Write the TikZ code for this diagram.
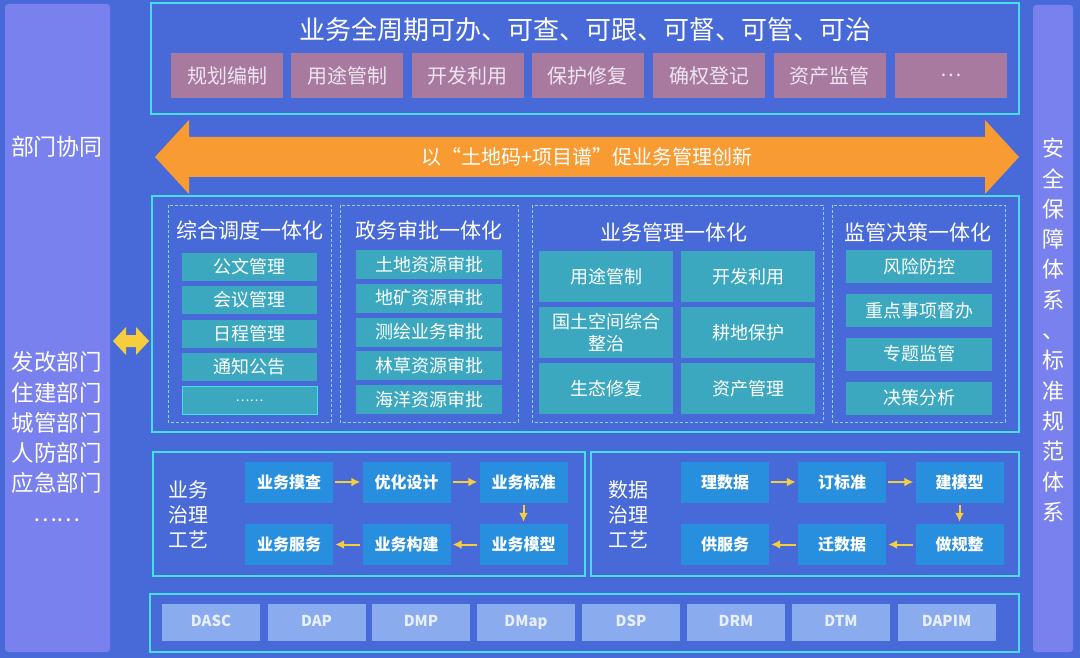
\documentclass[tikz,border=0pt]{standalone}
\usepackage{fontspec}
\setmainfont{Noto Sans CJK SC}
\usepackage{tikz}
\usetikzlibrary{arrows.meta}
\tikzset{>=latex}
\definecolor{bgblue}{RGB}{72,106,216}
\definecolor{sidepurple}{RGB}{121,129,238}
\definecolor{cyanline}{RGB}{70,222,232}
\definecolor{dashcyan}{RGB}{140,215,240}
\definecolor{mauve}{RGB}{168,122,160}
\definecolor{mauvetext}{RGB}{238,228,240}
\definecolor{tealbox}{RGB}{60,168,192}
\definecolor{procblue}{RGB}{40,142,222}
\definecolor{toolblue}{RGB}{138,172,238}
\definecolor{tooltext}{RGB}{232,240,255}
\definecolor{arroworange}{RGB}{248,155,50}
\definecolor{flowyellow}{RGB}{246,205,60}
\tikzset{
  cyanframe/.style={draw=cyanline, line width=2pt},
  dashframe/.style={draw=dashcyan, line width=0.8pt, dash pattern=on 3pt off 2pt},
  sidecol/.style={fill=sidepurple, rounded corners=3pt},
  sidetext/.style={text=white, align=center},
  tagbox/.style={fill=mauve, text=mauvetext, minimum width=112pt, minimum height=45pt, inner sep=0pt, font=\fontsize{20}{24}\selectfont},
  paneltitle/.style={text=white, font=\fontsize{21}{25}\selectfont},
  itembox/.style={fill=tealbox, text=white, inner sep=0pt, align=center, font=\fontsize{18}{22}\selectfont},
  procbox/.style={fill=procblue, text=white, minimum width=88pt, minimum height=41pt, inner sep=0pt, font=\bfseries\fontsize{16}{20}\selectfont},
  proclabel/.style={text=white, align=left, font=\fontsize{20}{25}\selectfont},
  toolbox/.style={fill=toolblue, text=tooltext, minimum width=98pt, minimum height=37pt, inner sep=0pt, text height=11pt, text depth=3pt, font=\bfseries\fontsize{15}{18}\selectfont},
  flow/.style={-{Latex[length=9pt,width=9pt]}, draw=flowyellow, fill=flowyellow, line width=2pt, shorten <=2pt, shorten >=2pt},
}
\begin{document}
\begin{tikzpicture}[x=1pt,y=-1pt]
    \fill[bgblue] (0,0) rectangle (1080,658);
    \useasboundingbox (0,0) rectangle (1080,658);
    % side columns
    \fill[sidecol] (5,4) rectangle (110,652);
    \fill[sidecol] (1033,5) rectangle (1073,652);
    \node[sidetext, font=\fontsize{23}{28}\selectfont] (dept) at (57,147) {部门协同};
    \node[sidetext, font=\fontsize{22.5}{30.2}\selectfont] (deptlist) at (57,437) {发改部门\\住建部门\\城管部门\\人防部门\\应急部门\\……};
    \node[sidetext, font=\fontsize{22}{30.3}\selectfont] (safety) at (1053,330) {安\\全\\保\\障\\体\\系\\、\\标\\准\\规\\范\\体\\系};
    % top block
    \draw[cyanframe] (151,3) rectangle (1019,114);
    \node[text=white, font=\fontsize{26}{30}\selectfont] (toptitle) at (585,30) {业务全周期可办、可查、可跟、可督、可管、可治};
    \node[tagbox] (tag1) at (227,75.5) {规划编制};
    \node[tagbox] (tag2) at (347,75.5) {用途管制};
    \node[tagbox] (tag3) at (467.5,75.5) {开发利用};
    \node[tagbox] (tag4) at (587.5,75.5) {保护修复};
    \node[tagbox] (tag5) at (709,75.5) {确权登记};
    \node[tagbox] (tag6) at (829.5,75.5) {资产监管};
    \node[tagbox] (tag7) at (951,75.5) {…};
    % orange double arrow
    \fill[arroworange] (155,157) -- (189,120) -- (189,137) -- (985,137) -- (985,120) -- (1019,157)
        -- (985,194) -- (985,177) -- (189,177) -- (189,194) -- cycle;
    \node[text=white, font=\fontsize{20}{24}\selectfont] (slogan) at (587,157) {以“土地码+项目谱”促业务管理创新};
    % yellow double arrow
    \fill[flowyellow] (113,341) -- (126,327) -- (126,335) -- (136,335) -- (136,327) -- (149,341)
        -- (136,355) -- (136,347) -- (126,347) -- (126,355) -- cycle;
    % middle block
    \draw[cyanframe] (152,196) rectangle (1019,432);
    \draw[dashframe] (168,205) rectangle (331,422);
    \draw[dashframe] (340,205) rectangle (518,422);
    \draw[dashframe] (532,205) rectangle (823,422);
    \draw[dashframe] (832,205) rectangle (1005,422);
    \node[paneltitle] (dispatch) at (249.5,230) {综合调度一体化};
    \node[paneltitle] (approve) at (429,230) {政务审批一体化};
    \node[paneltitle] (manage) at (674,232) {业务管理一体化};
    \node[paneltitle] (supervise) at (918,232) {监管决策一体化};
    \node[itembox, minimum width=135pt, minimum height=28pt] (d1) at (249.5,266.5) {公文管理};
    \node[itembox, minimum width=135pt, minimum height=28pt] (d2) at (249.5,300) {会议管理};
    \node[itembox, minimum width=135pt, minimum height=28pt] (d3) at (249.5,333.5) {日程管理};
    \node[itembox, minimum width=135pt, minimum height=28pt] (d4) at (249.5,367) {通知公告};
    \node[itembox, minimum width=135pt, minimum height=28pt, draw=cyanline, line width=0.8pt, font=\fontsize{13}{16}\selectfont] (d5) at (249.5,400.5) {……};
    \node[itembox, minimum width=146pt, minimum height=29pt] (a1) at (429,264.5) {土地资源审批};
    \node[itembox, minimum width=146pt, minimum height=29pt] (a2) at (429,298) {地矿资源审批};
    \node[itembox, minimum width=146pt, minimum height=29pt] (a3) at (429,332) {测绘业务审批};
    \node[itembox, minimum width=146pt, minimum height=29pt] (a4) at (429,365.5) {林草资源审批};
    \node[itembox, minimum width=146pt, minimum height=29pt] (a5) at (429,399.5) {海洋资源审批};
    \node[itembox, minimum width=134pt, minimum height=51pt] (m1) at (606,276.5) {用途管制};
    \node[itembox, minimum width=134pt, minimum height=51pt] (m2) at (748,276.5) {开发利用};
    \node[itembox, minimum width=134pt, minimum height=51pt] (m3) at (606,332.5) {国土空间综合\\整治};
    \node[itembox, minimum width=134pt, minimum height=51pt] (m4) at (748,332.5) {耕地保护};
    \node[itembox, minimum width=134pt, minimum height=51pt] (m5) at (606,388.5) {生态修复};
    \node[itembox, minimum width=134pt, minimum height=51pt] (m6) at (748,388.5) {资产管理};
    \node[itembox, minimum width=146pt, minimum height=33pt] (s1) at (919,266.5) {风险防控};
    \node[itembox, minimum width=146pt, minimum height=33pt] (s2) at (919,310.5) {重点事项督办};
    \node[itembox, minimum width=146pt, minimum height=33pt] (s3) at (919,354) {专题监管};
    \node[itembox, minimum width=146pt, minimum height=33pt] (s4) at (919,398) {决策分析};
    % governance blocks
    \draw[cyanframe] (153,452) rectangle (585,576);
    \draw[cyanframe] (591,452) rectangle (1019,576);
    \node[proclabel] (bizlabel) at (188,515) {业务\\治理\\工艺};
    \node[proclabel] (datalabel) at (628,515) {数据\\治理\\工艺};
    \node[procbox] (b1) at (289,482) {业务摸查};
    \node[procbox] (b2) at (406.5,482) {优化设计};
    \node[procbox] (b3) at (523.5,482) {业务标准};
    \node[procbox] (b4) at (523.5,544.5) {业务模型};
    \node[procbox] (b5) at (406.5,544.5) {业务构建};
    \node[procbox] (b6) at (289,544.5) {业务服务};
    \draw[flow] (b1) -- (b2);
    \draw[flow] (b2) -- (b3);
    \draw[flow] (b3) -- (b4);
    \draw[flow] (b4) -- (b5);
    \draw[flow] (b5) -- (b6);
    \node[procbox] (g1) at (725,482) {理数据};
    \node[procbox] (g2) at (842,482) {订标准};
    \node[procbox] (g3) at (959.5,482) {建模型};
    \node[procbox] (g4) at (959.5,544.5) {做规整};
    \node[procbox] (g5) at (842,544.5) {迁数据};
    \node[procbox] (g6) at (725,544.5) {供服务};
    \draw[flow] (g1) -- (g2);
    \draw[flow] (g2) -- (g3);
    \draw[flow] (g3) -- (g4);
    \draw[flow] (g4) -- (g5);
    \draw[flow] (g5) -- (g6);
    % tool block
    \draw[cyanframe] (150,594) rectangle (1019,652);
    \node[toolbox] (t1) at (211,622.5) {DASC};
    \node[toolbox] (t2) at (316.5,622.5) {DAP};
    \node[toolbox] (t3) at (421,622.5) {DMP};
    \node[toolbox] (t4) at (526,622.5) {DMap};
    \node[toolbox] (t5) at (631,622.5) {DSP};
    \node[toolbox] (t6) at (736,622.5) {DRM};
    \node[toolbox] (t7) at (841,622.5) {DTM};
    \node[toolbox] (t8) at (946.5,622.5) {DAPIM};
\end{tikzpicture}
\end{document}
